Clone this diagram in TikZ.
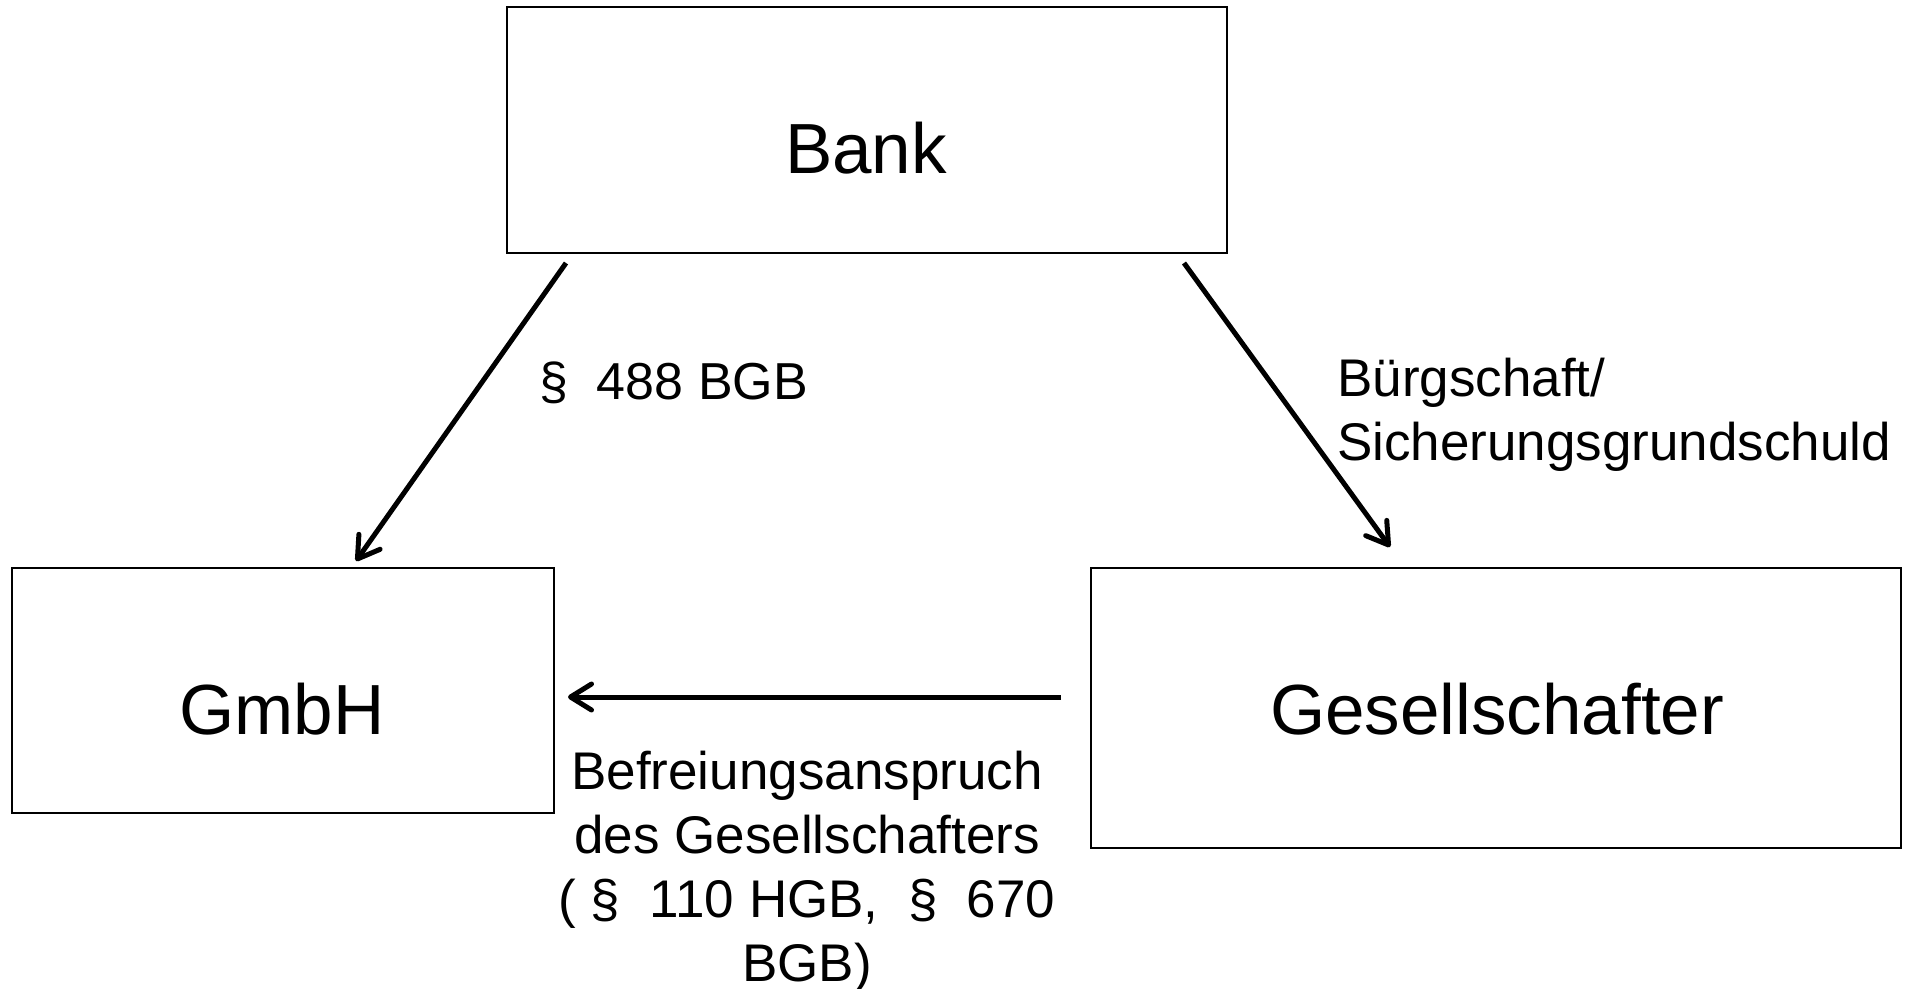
\documentclass[tikz,border=0pt]{standalone}
\usepackage{fontspec}
\setmainfont{Liberation Sans}
\usetikzlibrary{arrows.meta,calc}
\tikzset{
  box/.style={draw=black, line width=2pt, inner sep=0pt, fill=white},
  boxtext/.style={font=\fontsize{71}{85}\selectfont, inner sep=0pt},
  lbl/.style={font=\fontsize{53}{64}\selectfont, inner sep=0pt},
  conn/.style={line width=5pt, -{Straight Barb[length=21pt,width=26pt,line width=5pt,round]}},
}
\begin{document}
\begin{tikzpicture}[x=1pt,y=-1pt]
\useasboundingbox (0,0) rectangle (1908,988);
\fill[white] (0,0) rectangle (1908,988);
% boxes
\node[box, minimum width=720pt, minimum height=246pt] (bank) at (867,130) {};
\node[box, minimum width=542pt, minimum height=245pt] (gmbh) at (283,690.5) {};
\node[box, minimum width=810pt, minimum height=280pt] (ges) at (1496,708) {};
% box texts
\node[boxtext, anchor=base] (banktext) at (866,173) {Bank};
\node[boxtext, anchor=base] (gmbhtext) at (282,734) {GmbH};
\node[boxtext, anchor=base] (gestext) at (1497,734) {Gesellschafter};
% connectors
\draw[conn] ($(bank.south west)+(60,9)$) -- ($(gmbh.north west)+(345,-6)$);
\draw[conn] ($(bank.south east)+(-44,9)$) -- ($(ges.north west)+(300,-20)$);
\draw[conn] ($(ges.west)+(-29,-11)$) -- ($(gmbh.east)+(13,6.5)$);
% labels
\node[lbl, font=\fontsize{52}{64}\selectfont, anchor=base west] (l488) at (539,399) {§~~488 BGB};
\node[lbl, anchor=north west, align=left] (lbuerg) at (1337,358)
  {Bürgschaft/\\Sicherungsgrundschuld};
\node[lbl, anchor=north, align=center] (lbefr) at (807,751)
  {Befreiungsanspruch\\des Gesellschafters\\(~§~~110 HGB,~~§~~670\\BGB)};
\end{tikzpicture}
\end{document}
